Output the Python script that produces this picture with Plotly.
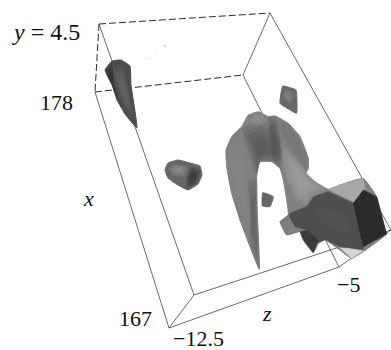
import plotly.graph_objects as go

# Tick / axis labels
labels = ["y = 4.5", "178", "x", "167", "−12.5", "z", "−5"]

# Wire-frame edges of the box (picture coordinates)
A, B, C, V = (99, 24), (270, 13), (95, 92), (243, 75)
D, E, F, H = (169, 328), (194, 295), (339, 267), (391, 230)
solid_edges = [(A, E), (C, D), (E, H), (D, F), (E, D), (F, H), (V, F), (V, B), (B, H)]
dashed_edges = [(A, B), (A, C), (C, V)]


def Z(pts):  # zoom-crop read-offs to picture coordinates
    return [(200 + a / 3, 80 + b / 3) for a, b in pts]


# Iso-surface outlines: (points, gray colour)
spike = [(105, 70), (112, 61), (121, 60), (130, 66), (131, 85), (137, 128), (125, 114), (117, 100), (112, 85)]
blob_mid = [(165, 170), (168, 163), (178, 160), (190, 163), (200, 166), (202, 175), (198, 184), (188, 190), (176, 184), (168, 178)]
blob_top = Z([(240, 70), (248, 18), (288, 30), (290, 100), (270, 90)])
chip = Z([(188, 338), (220, 350), (210, 380), (187, 378)])
arch = Z([(178, 568), (150, 500), (120, 420), (95, 340), (80, 260), (78, 210), (95, 170), (125, 140),
          (145, 105), (175, 95), (205, 110), (225, 108), (265, 130), (300, 170), (325, 235), (325, 265),
          (318, 280), (345, 305), (385, 328), (420, 315), (490, 295), (530, 350), (555, 450), (560, 462),
          (490, 515), (455, 535), (420, 510), (375, 480), (355, 490), (340, 518), (310, 480), (300, 455),
          (260, 465), (240, 425), (265, 405), (250, 300), (240, 265), (215, 245), (180, 245), (170, 290),
          (172, 400)])
outlines = [(spike, "#4c4c4c"), (blob_mid, "#666666"), (blob_top, "#686868"), (chip, "#666666"), (arch, "#808080")]

# Soft shading patches drawn inside the outlines: (points, r-g-b gray level)
spike_core = [(113, 68), (123, 66), (128, 85), (134, 120), (124, 106), (118, 90)]
spike_edge = [(105, 70), (112, 64), (114, 85), (122, 108), (112, 85)]
mid_light = [(168, 168), (176, 164), (188, 166), (186, 176), (172, 176)]
mid_dark = [(192, 166), (201, 170), (197, 184), (187, 189), (186, 178)]
top_light = Z([(250, 50), (255, 28), (282, 38), (278, 70), (262, 70)])
arch_dark = Z([(125, 145), (180, 125), (215, 140), (238, 240), (215, 245), (180, 245), (168, 290), (150, 230)])
arch_cap = Z([(145, 115), (175, 98), (198, 115), (190, 135), (160, 140)])
arch_right = Z([(225, 108), (265, 130), (300, 170), (325, 235), (322, 272), (290, 230), (240, 160)])
limb_light = Z([(85, 215), (120, 170), (135, 260), (140, 350), (150, 450), (125, 400), (95, 320)])
limb_dark = Z([(145, 300), (170, 290), (172, 400), (178, 568), (150, 490), (150, 400)])
seam = Z([(205, 110), (225, 108), (250, 220), (240, 265), (215, 240)])
band = Z([(240, 190), (290, 235), (345, 305), (380, 328), (340, 350), (320, 375), (290, 365), (255, 290)])
soft = [
    (spike_core, 105), (spike_edge, 40), (mid_light, 145), (mid_dark, 50), (top_light, 130),
    (limb_light, 135), (limb_dark, 95), (arch_dark, 85), (seam, 80), (arch_cap, 145), (arch_right, 115), (band, 165),
]

# Hard-edged facets of the mass at the right
mass = Z([(340, 350), (385, 335), (460, 370), (480, 420), (490, 510), (430, 505), (375, 478), (355, 488),
          (322, 450), (285, 440), (265, 405), (280, 395), (320, 380)])
darkest = Z([(460, 370), (490, 330), (530, 350), (555, 450), (560, 462), (490, 500), (470, 410)])
wedge = Z([(385, 328), (420, 315), (490, 295), (495, 330), (460, 365)])
foot = Z([(420, 503), (445, 505), (490, 512), (455, 535)])
cube = Z([(240, 425), (265, 405), (282, 440), (260, 465)])
lower = Z([(300, 455), (322, 450), (355, 482), (340, 518), (310, 480)])
facets = [(wedge, "#a8a8a8"), (mass, "#4e4e4e"), (darkest, "#2b2b2b"), (foot, "#d4d4d4"), (cube, "#7e7e7e"), (lower, "#3a3a3a")]
mass_core = Z([(345, 385), (420, 385), (455, 420), (460, 480), (400, 450), (340, 420)])

fig = go.Figure()


def add_edges(edges, dash, width):
    for p, q in edges:
        fig.add_trace(go.Scatter(x=[p[0], q[0]], y=[p[1], q[1]], mode="lines",
                                 line=dict(color="#2a2a2a", width=width, dash=dash), hoverinfo="skip"))


def add_poly(pts, fill, line=None, width=0, spline=True):
    xs = [p[0] for p in pts] + [pts[0][0]]
    ys = [p[1] for p in pts] + [pts[0][1]]
    ln = dict(color=line or "rgba(0,0,0,0)", width=width)
    if spline:
        ln.update(shape="spline", smoothing=0.3)
    fig.add_trace(go.Scatter(x=xs, y=ys, mode="lines", fill="toself", fillcolor=fill, line=ln, hoverinfo="skip"))


def add_soft(pts, level, steps=5):
    cx = sum(p[0] for p in pts) / len(pts)
    cy = sum(p[1] for p in pts) / len(pts)
    for k in range(steps):
        f = 1 - k * 0.16
        add_poly([(cx + (a - cx) * f, cy + (b - cy) * f) for a, b in pts],
                 f"rgba({level},{level},{level},0.25)", spline=True)


add_edges(dashed_edges, "7px,3px", 1)
add_edges(solid_edges, "solid", 0.7)

for pts, col in outlines:
    add_poly(pts, col, line=col, width=1)
for pts, level in soft:
    add_soft(pts, level)
for pts, col in facets:
    add_poly(pts, col, line=col, width=0.5, spline=False)
add_soft(mass_core, 85)

# specks near the top of the box
fig.add_trace(go.Scatter(x=[146, 150, 156, 165], y=[59, 58, 51, 46], mode="markers",
                         marker=dict(color="#555555", size=[1.5, 1.5, 1.5, 2.5]), hoverinfo="skip"))

text_pos = [(46, 32, True, 24), (56, 102, False, 22), (88, 198, True, 22), (135, 318, False, 22),
            (198, 338, False, 22), (267, 313, True, 22), (348, 284, False, 22)]
for s, (tx, ty, ital, size) in zip(labels, text_pos):
    if s.startswith("y"):
        s = "<i>y</i> = 4.5"
    elif ital:
        s = f"<i>{s}</i>"
    fig.add_annotation(x=tx, y=ty, text=s, showarrow=False, xanchor="center", yanchor="middle",
                       font=dict(family="Liberation Serif", size=size, color="#111111"))

fig.update_layout(
    width=391, height=350, margin=dict(l=0, r=0, t=0, b=0), showlegend=False,
    paper_bgcolor="white", plot_bgcolor="white",
    xaxis=dict(range=[0, 391], visible=False, fixedrange=True),
    yaxis=dict(range=[350, 0], visible=False, fixedrange=True),
)
fig.write_html("out.html", config={"displayModeBar": False},
               post_script="document.body.style.margin='0';document.body.style.overflow='hidden';")
